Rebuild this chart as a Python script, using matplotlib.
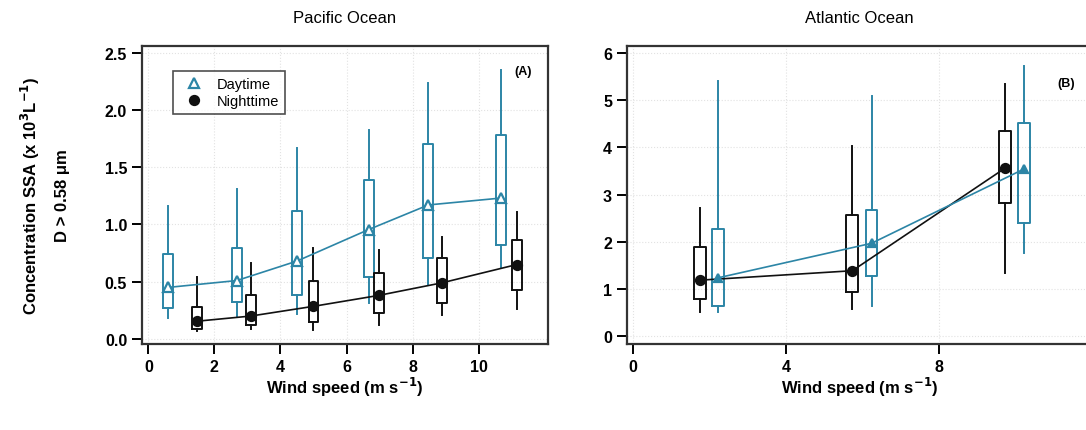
"""Sea spray aerosol concentration against wind speed, Pacific and Atlantic.

Box: interquartile range, whiskers: 10th-90th percentile, marker: median.
Writes out.png.
"""
import matplotlib
matplotlib.use("Agg")
import matplotlib.pyplot as plt

plt.rcParams["font.family"] = ["Liberation Sans", "DejaVu Sans"]

BLUE, BLACK, GRID = "#2c85a6", "#111111", "#e2e2e2"

# Pacific (A)
pac_day_x = [0.6, 2.68, 4.5, 6.67, 8.48, 10.68]
pac_day_lo = [0.18, 0.19, 0.22, 0.31, 0.48, 0.63]
pac_day_q1 = [0.27, 0.32, 0.38, 0.54, 0.71, 0.82]
pac_day_med = [0.45, 0.51, 0.68, 0.955, 1.17, 1.23]
pac_day_q3 = [0.74, 0.79, 1.12, 1.39, 1.70, 1.78]
pac_day_hi = [1.165, 1.31, 1.67, 1.82, 2.23, 2.35]

pac_night_x = [1.47, 3.1, 5.0, 6.97, 8.89, 11.16]
pac_night_lo = [0.07, 0.09, 0.08, 0.125, 0.21, 0.26]
pac_night_q1 = [0.09, 0.12, 0.15, 0.23, 0.31, 0.43]
pac_night_med = [0.155, 0.20, 0.285, 0.38, 0.49, 0.65]
pac_night_q3 = [0.28, 0.38, 0.51, 0.58, 0.705, 0.86]
pac_night_hi = [0.54, 0.66, 0.79, 0.78, 0.89, 1.11]

# Atlantic (B)
atl_day_x = [2.22, 6.23, 10.21]
atl_day_lo = [0.51, 0.65, 1.76]
atl_day_q1 = [0.65, 1.27, 2.41]
atl_day_med = [1.24, 1.97, 3.54]
atl_day_q3 = [2.28, 2.67, 4.52]
atl_day_hi = [5.41, 5.08, 5.71]

atl_night_x = [1.74, 5.73, 9.72]
atl_night_lo = [0.51, 0.58, 1.34]
atl_night_q1 = [0.79, 0.93, 2.83]
atl_night_med = [1.19, 1.39, 3.56]
atl_night_q3 = [1.90, 2.57, 4.35]
atl_night_hi = [2.72, 4.03, 5.34]


def boxes(ax, x, lo, q1, med, q3, hi, colour, width):
    stats = [dict(whislo=a, q1=b, med=c, q3=d, whishi=e)
             for a, b, c, d, e in zip(lo, q1, med, q3, hi)]
    line = dict(color=colour, lw=1.4)
    ax.bxp(stats, positions=x, widths=width, showfliers=False,
           showcaps=False, boxprops=line, whiskerprops=line,
           medianprops=dict(lw=0), manage_ticks=False)


def series(ax, x, med, colour, marker, filled, size, label):
    ax.plot(x, med, color=colour, lw=1.2, marker=marker, ms=size,
            mfc=colour if filled else "white", mec=colour, mew=1.6,
            label=label, zorder=5)


def style(ax):
    ax.grid(color=GRID, lw=0.8, ls=":")
    ax.set_axisbelow(True)
    for spine in ax.spines.values():
        spine.set_linewidth(1.6)
        spine.set_color("#333333")
    ax.tick_params(direction="out", length=7, width=1.4, labelsize=11.5)
    for lab in ax.get_xticklabels() + ax.get_yticklabels():
        lab.set_fontweight("bold")
    ax.set_xlabel("Wind speed (m s$^{\\mathbf{-1}}$)", fontsize=12,
                  fontweight="bold", labelpad=1)


fig = plt.figure(figsize=(10.86, 4.31), dpi=100)
ax_a = fig.add_axes((0.1305, 0.1995, 0.3741, 0.6922))
ax_b = fig.add_axes((0.577, 0.1995, 0.4288, 0.6922))

boxes(ax_a, pac_day_x, pac_day_lo, pac_day_q1, pac_day_med, pac_day_q3,
      pac_day_hi, BLUE, 0.3)
boxes(ax_a, pac_night_x, pac_night_lo, pac_night_q1, pac_night_med,
      pac_night_q3, pac_night_hi, BLACK, 0.3)
series(ax_a, pac_day_x, pac_day_med, BLUE, "^", False, 7.5, "Daytime")
series(ax_a, pac_night_x, pac_night_med, BLACK, "o", True, 6.5, "Nighttime")
ax_a.set_xlim(-0.2, 12.1)
ax_a.set_ylim(-0.044, 2.56)
ax_a.set_xticks([0, 2, 4, 6, 8, 10])
ax_a.set_yticks([0.0, 0.5, 1.0, 1.5, 2.0, 2.5])
ax_a.set_yticklabels(["0.0", "0.5", "1.0", "1.5", "2.0", "2.5"])
style(ax_a)
ax_a.set_title("Pacific Ocean", fontsize=12, pad=17)
ax_a.set_ylabel("Concentration SSA (x 10$^{\\mathbf{3}}$L$^{\\mathbf{-1}}$)\n"
                "D > 0.58 \u03bcm", fontsize=12, fontweight="bold",
                labelpad=25, linespacing=2.05)
handles, labels = ax_a.get_legend_handles_labels()
legend_handles = [plt.Line2D([], [], ls="none", marker=h.get_marker(),
                             ms=h.get_markersize(), mfc=h.get_mfc(),
                             mec=h.get_mec(), mew=h.get_mew()) for h in handles]
leg = ax_a.legend(legend_handles, labels, loc="upper left",
                  bbox_to_anchor=(0.06, 0.94), fontsize=10.5, frameon=True,
                  fancybox=False, edgecolor="#222222", handletextpad=0.6,
                  borderpad=0.4, labelspacing=0.25)
leg.get_frame().set_linewidth(1.2)
ax_a.text(0.96, 0.915, "(A)", transform=ax_a.transAxes, fontsize=9,
          fontweight="bold", ha="right", va="center")

boxes(ax_b, atl_night_x, atl_night_lo, atl_night_q1, atl_night_med,
      atl_night_q3, atl_night_hi, BLACK, 0.31)
boxes(ax_b, atl_day_x, atl_day_lo, atl_day_q1, atl_day_med, atl_day_q3,
      atl_day_hi, BLUE, 0.31)
series(ax_b, atl_night_x, atl_night_med, BLACK, "o", True, 6.5, "Nighttime")
series(ax_b, atl_day_x, atl_day_med, BLUE, "^", True, 6, "Daytime")
ax_b.set_xlim(-0.17, 12.0)
ax_b.set_ylim(-0.16, 6.15)
ax_b.set_xticks([0, 4, 8])
ax_b.set_yticks([0, 1, 2, 3, 4, 5, 6])
style(ax_b)
ax_b.set_title("Atlantic Ocean", fontsize=12, pad=17)
ax_b.text(0.963, 0.875, "(B)", transform=ax_b.transAxes, fontsize=9,
          fontweight="bold", ha="right", va="center")

fig.savefig("out.png", dpi=100)
